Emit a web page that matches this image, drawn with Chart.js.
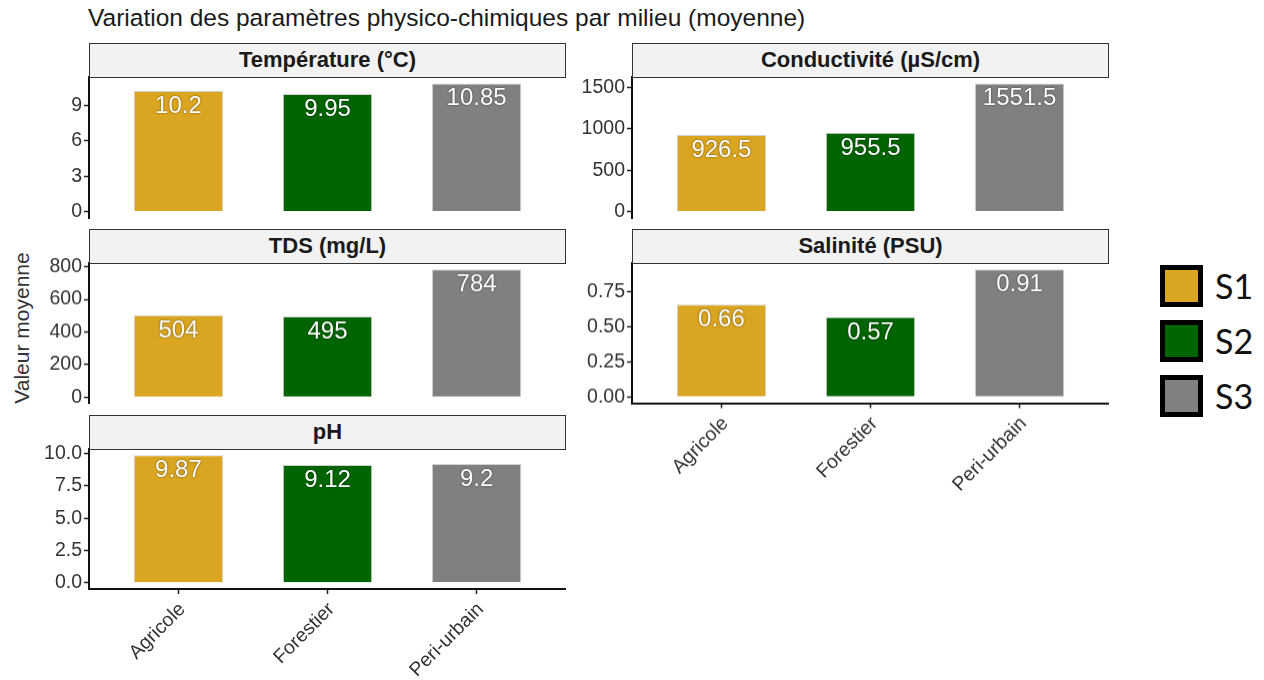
<!DOCTYPE html>
<html>
  <head>
    <meta charset="UTF-8" />
    <title>Variation des paramètres physico-chimiques</title>
    <script src="https://cdn.jsdelivr.net/npm/chart.js"></script>
    <style>
      body {
        margin: 0;
        background: #fff;
        font-family: "Liberation Sans", Arial, sans-serif;
      }
      #page {
        position: relative;
        width: 1264px;
        height: 680px;
        overflow: hidden;
      }
      .titre {
        position: absolute;
        left: 88px;
        top: 4px;
        font-size: 24.5px;
        line-height: 28px;
        color: #1a1a1a;
        white-space: nowrap;
      }
      .ylab {
        position: absolute;
        left: 22px;
        top: 328px;
        transform: translate(-50%, -50%) rotate(-90deg);
        font-size: 21px;
        color: #333;
        white-space: nowrap;
      }
      .strip {
        position: absolute;
        box-sizing: border-box;
        border: 1.5px solid #333;
        background: #f2f2f2;
        font-weight: bold;
        font-size: 22px;
        text-align: center;
        color: #1a1a1a;
      }
      .panel {
        position: absolute;
      }
      .legende {
        position: absolute;
        left: 1160px;
        top: 258px;
      }
      .item {
        display: flex;
        align-items: center;
        height: 55px;
      }
      .carre {
        width: 43px;
        height: 42px;
        box-sizing: border-box;
        border: 5px solid #000;
      }
      .item span {
        font-family: Lato, "Open Sans", sans-serif;
        font-size: 34px;
        margin-left: 12px;
        color: #111;
      }
    </style>
  </head>
  <body>
    <div id="page">
      <div class="titre">Variation des paramètres physico-chimiques par milieu (moyenne)</div>
      <div class="ylab">Valeur moyenne</div>
      <div class="legende" id="legende"></div>
    </div>

    <script>
      // données
      const milieux = ["Agricole", "Forestier", "Peri-urbain"];
      const stations = ["S1", "S2", "S3"];
      const couleurs = ["#DAA520", "#006400", "#808080"];

      const temperature = [10.2, 9.95, 10.85];
      const conductivite = [926.5, 955.5, 1551.5];
      const tds = [504, 495, 784];
      const salinite = [0.66, 0.57, 0.91];
      const ph = [9.87, 9.12, 9.2];

      const ticksTemp = [0, 3, 6, 9];
      const ticksCond = [0, 500, 1000, 1500];
      const ticksTds = [0, 200, 400, 600, 800];
      const ticksSal = [0, 0.25, 0.5, 0.75];
      const ticksPh = [0, 2.5, 5, 7.5, 10];

      // mise en page des facettes (pixels)
      const PW = 477; // largeur d'un panneau
      const YW = 62; // largeur de l'axe y
      const XH = 100; // hauteur de l'axe x
      const PAD = 14; // marge pour les étiquettes hautes/basses
      const STRIP_H = 34;
      const cols = [89, 632];
      const rows = [
        { top: 76.5, bottom: 217.5 },
        { top: 263, bottom: 402.5 },
        { top: 449, bottom: 589 },
      ];

      const panneaux = [
        { nom: "Température (°C)", valeurs: temperature, ticks: ticksTemp, dec: 0, col: 0, row: 0, axeX: false },
        { nom: "Conductivité (µS/cm)", valeurs: conductivite, ticks: ticksCond, dec: 0, col: 1, row: 0, axeX: false },
        { nom: "TDS (mg/L)", valeurs: tds, ticks: ticksTds, dec: 0, col: 0, row: 1, axeX: false },
        { nom: "Salinité (PSU)", valeurs: salinite, ticks: ticksSal, dec: 2, col: 1, row: 1, axeX: true },
        { nom: "pH", valeurs: ph, ticks: ticksPh, dec: 1, col: 0, row: 2, axeX: true },
      ];

      const etiquettes = {
        id: "etiquettes",
        afterDatasetsDraw(chart) {
          const ctx = chart.ctx;
          const vals = chart.data.datasets[0].data;
          ctx.save();
          ctx.font = '24px "Liberation Sans", Arial, sans-serif';
          ctx.fillStyle = "#ffffff";
          ctx.textAlign = "center";
          ctx.textBaseline = "alphabetic";
          ctx.shadowColor = "rgba(0,0,0,0.6)";
          ctx.shadowBlur = 2;
          chart.getDatasetMeta(0).data.forEach((bar, i) => {
            ctx.fillText(String(vals[i].y), bar.x, bar.y + 22);
          });
          ctx.restore();
        },
      };

      const page = document.getElementById("page");
      const police = { family: '"Liberation Sans", Arial, sans-serif', size: 19.5 };

      panneaux.forEach((p) => {
        const x0 = cols[p.col];
        const r = rows[p.row];
        const h = r.bottom - r.top;
        const padBas = p.axeX ? 0 : PAD;

        const box = document.createElement("div");
        box.className = "panel";
        box.style.left = x0 - YW + "px";
        box.style.top = r.top - PAD + "px";
        box.style.width = YW + PW + "px";
        box.style.height = h + PAD + (p.axeX ? XH : padBas) + "px";
        const cv = document.createElement("canvas");
        box.appendChild(cv);
        page.appendChild(box);

        const strip = document.createElement("div");
        strip.className = "strip";
        strip.style.left = x0 + "px";
        strip.style.top = r.top - STRIP_H + "px";
        strip.style.width = PW + "px";
        strip.style.height = STRIP_H + 1 + "px";
        strip.style.lineHeight = STRIP_H - 2 + "px";
        strip.textContent = p.nom;
        page.appendChild(strip);

        const vmax = Math.max(...p.valeurs);

        new Chart(cv, {
          type: "bar",
          data: {
            datasets: [
              {
                data: p.valeurs.map((v, i) => ({ x: i, y: v })),
                backgroundColor: couleurs,
                borderColor: "rgba(0,0,0,0.18)",
                borderWidth: 1,
                barPercentage: 0.6,
                categoryPercentage: 1,
              },
            ],
          },
          options: {
            responsive: true,
            maintainAspectRatio: false,
            animation: false,
            layout: { padding: { top: PAD, bottom: padBas, left: 0, right: 0 } },
            plugins: { legend: { display: false }, tooltip: { enabled: false } },
            scales: {
              x: {
                type: "linear",
                min: -0.6,
                max: 2.6,
                offset: false,
                display: p.axeX,
                afterBuildTicks: (s) => {
                  s.ticks = milieux.map((m, i) => ({ value: i }));
                },
                afterFit: (s) => {
                  if (p.axeX) s.height = XH;
                  s.paddingLeft = 0;
                  s.paddingRight = 0;
                },
                ticks: {
                  minRotation: 45,
                  maxRotation: 45,
                  autoSkip: false,
                  padding: 4,
                  labelOffset: 4,
                  color: "#333",
                  font: police,
                  callback: (v) => milieux[v],
                },
                grid: {
                  offset: false,
                  drawOnChartArea: false,
                  drawTicks: true,
                  tickLength: 5,
                  tickColor: "#222",
                  tickWidth: 1.5,
                },
                border: { display: true, color: "#111", width: 2 },
              },
              y: {
                min: -0.05 * vmax,
                max: 1.05 * vmax,
                afterBuildTicks: (s) => {
                  s.ticks = p.ticks.map((v) => ({ value: v }));
                },
                afterFit: (s) => {
                  s.width = YW;
                  s.paddingTop = 0;
                  s.paddingBottom = 0;
                },
                ticks: {
                  padding: 2,
                  color: "#333",
                  font: police,
                  callback: (v) => Number(v).toFixed(p.dec),
                },
                grid: {
                  drawOnChartArea: false,
                  drawTicks: true,
                  tickLength: 5,
                  tickColor: "#222",
                  tickWidth: 1.5,
                },
                border: { display: true, color: "#111", width: 2 },
              },
            },
          },
          plugins: [etiquettes],
        });
      });

      // légende
      const leg = document.getElementById("legende");
      stations.forEach((s, i) => {
        const it = document.createElement("div");
        it.className = "item";
        const c = document.createElement("div");
        c.className = "carre";
        c.style.background = couleurs[i];
        const t = document.createElement("span");
        t.textContent = s;
        it.appendChild(c);
        it.appendChild(t);
        leg.appendChild(it);
      });
    </script>
  </body>
</html>
